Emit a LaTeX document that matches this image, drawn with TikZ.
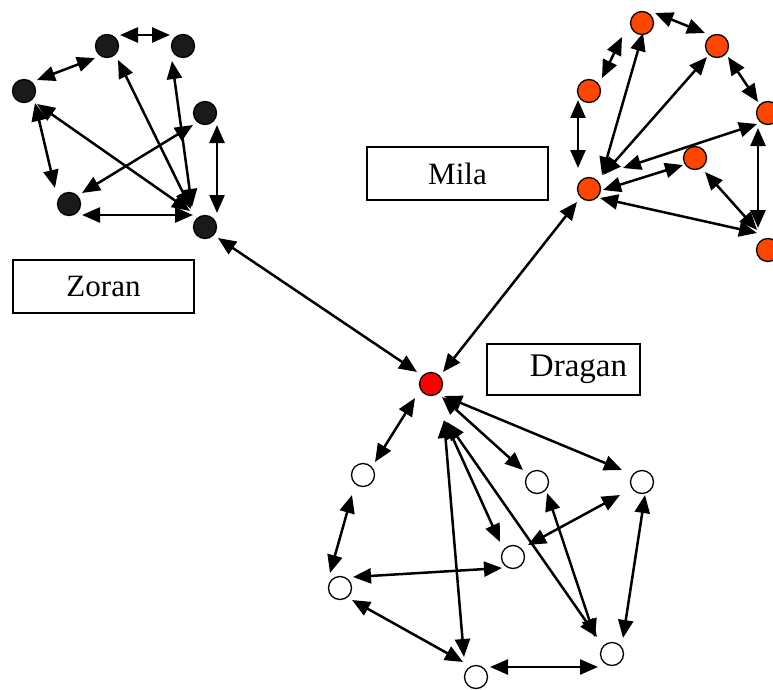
\documentclass[tikz,border=0pt]{standalone}
\usepackage{fontspec}
\setmainfont{Liberation Serif}
\usetikzlibrary{arrows.meta}
\definecolor{zblack}{RGB}{26,26,26}
\definecolor{morange}{RGB}{255,70,0}
\definecolor{dred}{RGB}{255,0,0}
\tikzset{
  vert/.style={circle, draw=black, line width=1.3pt, minimum size=23pt, inner sep=0pt},
  zv/.style={vert, fill=zblack},
  mv/.style={vert, fill=morange},
  wv/.style={vert, fill=white},
  dv/.style={vert, fill=dred},
  dbl/.style={line width=2.5pt, {Triangle[length=18pt,width=15pt]}-{Triangle[length=18pt,width=15pt]}},
  labelbox/.style={draw=black, line width=1.3pt, inner sep=0pt, font=\fontsize{31}{36}\selectfont},
}
\begin{document}
\begin{tikzpicture}[x=1pt, y=-1pt]
\useasboundingbox (0,0) rectangle (773,690);
% labels
\node[labelbox, minimum width=181pt, minimum height=53pt] (zl) at (103.5,286.5) {Zoran};
\node[labelbox, minimum width=181pt, minimum height=53pt] (ml) at (457.5,173.5) {Mila};
\node[labelbox, minimum width=153pt, minimum height=51pt, font=\fontsize{33}{38}\selectfont] (dl) at (563.5,369.5) {\hspace*{30pt}Dragan};
% Zoran cluster
\node[zv] (A) at (107,46) {};
\node[zv] (B) at (183,46) {};
\node[zv] (C) at (24,91) {};
\node[zv] (D) at (205,113) {};
\node[zv] (E) at (69,204) {};
\node[zv] (F) at (205,227) {};
% Mila cluster
\node[mv] (M1) at (642,23) {};
\node[mv] (M2) at (717,46) {};
\node[mv] (M3) at (589,91) {};
\node[mv] (M4) at (768,113) {};
\node[mv] (M5) at (695,158) {};
\node[mv] (M6) at (589,189) {};
\node[mv] (M7) at (768,250) {};
% Dragan cluster
\node[dv] (Dr) at (431,384) {};
\node[wv] (W1) at (363,475) {};
\node[wv] (W2) at (537,482) {};
\node[wv] (W3) at (642,482) {};
\node[wv] (W4) at (513,557) {};
\node[wv] (W5) at (340,588) {};
\node[wv] (W6) at (612,654) {};
\node[wv] (W7) at (476,677) {};
% Zoran edges
\draw[dbl] ([shift={(13,-11)}]A.center) -- ([shift={(-13,-11)}]B.center);
\draw[dbl] ([shift={(-12,12)}]A.center) -- ([shift={(13,-11)}]C.center);
\draw[dbl] ([shift={(11,12)}]C.center) -- ([shift={(-14,-16)}]E.center);
\draw[dbl] ([shift={(13,13)}]C.center) -- ([shift={(-15,-16)}]F.center);
\draw[dbl] ([shift={(11,14)}]A.center) -- ([shift={(-14,-18)}]F.center);
\draw[dbl] ([shift={(-11,15)}]B.center) -- ([shift={(-13,-20)}]F.center);
\draw[dbl] ([shift={(-12,12)}]D.center) -- ([shift={(13,-11)}]E.center);
\draw[dbl] ([shift={(13,11)}]E.center) -- ([shift={(-12,-12)}]F.center);
\draw[dbl] ([shift={(12,12)}]D.center) -- ([shift={(12,-14)}]F.center);
\draw[dbl] ([shift={(13,11)}]F.center) -- ([shift={(-14,-12)}]Dr.center);
% Mila edges
\draw[dbl] ([shift={(13,-10)}]M1.center) -- ([shift={(-12,-13)}]M2.center);
\draw[dbl] ([shift={(-20,14)}]M1.center) -- ([shift={(13,-13)}]M3.center);
\draw[dbl] ([shift={(-11,9)}]M3.center) -- ([shift={(-11,-21)}]M6.center);
\draw[dbl] ([shift={(1,10)}]M1.center) -- ([shift={(13,-14)}]M6.center);
\draw[dbl] ([shift={(-10,11)}]M2.center) -- ([shift={(14,-14)}]M6.center);
\draw[dbl] ([shift={(11,11)}]M2.center) -- ([shift={(-10,-11)}]M4.center);
\draw[dbl] ([shift={(-11,11)}]M4.center) -- ([shift={(34,-21)}]M6.center);
\draw[dbl] ([shift={(-12,7)}]M5.center) -- ([shift={(14,1)}]M6.center);
\draw[dbl] ([shift={(10,14)}]M5.center) -- ([shift={(-11,-20)}]M7.center);
\draw[dbl] ([shift={(11,9)}]M6.center) -- ([shift={(-11,-17)}]M7.center);
\draw[dbl] ([shift={(-10,15)}]M4.center) -- ([shift={(-10,-22)}]M7.center);
\draw[dbl] ([shift={(-12,13)}]M6.center) -- ([shift={(12,-12)}]Dr.center);
% Dragan edges
\draw[dbl] ([shift={(-16,14)}]Dr.center) -- ([shift={(12,-13)}]W1.center);
\draw[dbl] ([shift={(11,13)}]Dr.center) -- ([shift={(-14,-12)}]W2.center);
\draw[dbl] ([shift={(13,12)}]Dr.center) -- ([shift={(-20,-12)}]W3.center);
\draw[dbl] ([shift={(14,37)}]Dr.center) -- ([shift={(-13,-15)}]W4.center);
\draw[dbl] ([shift={(16,38)}]Dr.center) -- ([shift={(-15,-17)}]W6.center);
\draw[dbl] ([shift={(13,36)}]Dr.center) -- ([shift={(-12,-20)}]W7.center);
\draw[dbl] ([shift={(-11,20)}]W1.center) -- ([shift={(-10,-15)}]W5.center);
\draw[dbl] ([shift={(13,-11)}]W5.center) -- ([shift={(-11,11)}]W4.center);
\draw[dbl] ([shift={(12,12)}]W5.center) -- ([shift={(-13,-15)}]W7.center);
\draw[dbl] ([shift={(14,-10)}]W7.center) -- ([shift={(-14,13)}]W6.center);
\draw[dbl] ([shift={(10,11)}]W2.center) -- ([shift={(-17,-17)}]W6.center);
\draw[dbl] ([shift={(3,13)}]W3.center) -- ([shift={(11,-16)}]W6.center);
\draw[dbl] ([shift={(-22,13)}]W3.center) -- ([shift={(15,-12)}]W4.center);
\end{tikzpicture}
\end{document}
